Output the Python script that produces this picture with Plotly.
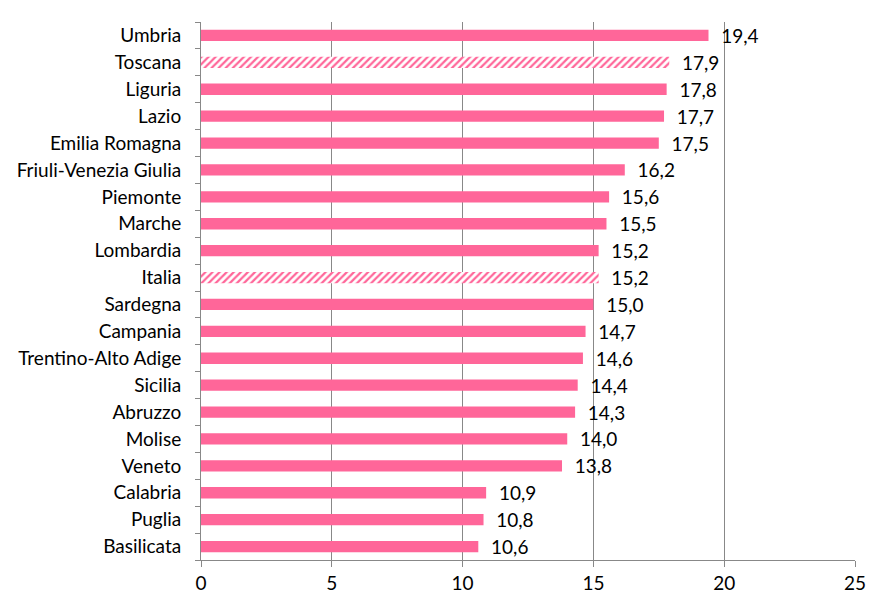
import plotly.graph_objects as go

regions = ["Umbria", "Toscana", "Liguria", "Lazio", "Emilia Romagna",
           "Friuli-Venezia Giulia", "Piemonte", "Marche", "Lombardia", "Italia",
           "Sardegna", "Campania", "Trentino-Alto Adige", "Sicilia", "Abruzzo",
           "Molise", "Veneto", "Calabria", "Puglia", "Basilicata"]
values = [19.4, 17.9, 17.8, 17.7, 17.5, 16.2, 15.6, 15.5, 15.2, 15.2,
          15.0, 14.7, 14.6, 14.4, 14.3, 14.0, 13.8, 10.9, 10.8, 10.6]
hatched = ["Toscana", "Italia"]
x_ticks = [0, 5, 10, 15, 20, 25]

pink = "#FF6699"
shapes = ["/" if r in hatched else "" for r in regions]

fig = go.Figure(go.Bar(
    y=regions[::-1], x=values[::-1], orientation="h",
    width=0.42,
    marker=dict(color=pink, line=dict(width=0),
                pattern=dict(shape=shapes[::-1], bgcolor="white", fillmode="replace",
                             size=5, solidity=0.45)),
    text=values[::-1], texttemplate="\u00a0\u00a0%{x:.1f}", textposition="outside",
    constraintext="none",
    textfont=dict(size=19, color="black"), cliponaxis=False,
))

fig.update_layout(
    width=871, height=596, separators=",.",
    margin=dict(l=193, r=24, t=14, b=44, autoexpand=False),
    plot_bgcolor="white", paper_bgcolor="white",
    font=dict(family="Lato, Open Sans, sans-serif", size=19, color="black"),
    showlegend=False,
)
fig.update_xaxes(range=[0, 25], tickvals=x_ticks, showgrid=True, gridcolor="#888888",
                 gridwidth=1, showline=True, linecolor="#888888", ticks="outside",
                 tickcolor="#888888", ticklen=6, zeroline=False, automargin=False,
                 tickfont=dict(size=19))
fig.update_yaxes(showline=True, linecolor="#888888", ticks="outside", tickson="boundaries",
                 tickcolor="#888888", ticklen=5, showgrid=False, automargin=False,
                 ticklabelstandoff=15, tickfont=dict(size=19))

fig.write_html("out.html")
